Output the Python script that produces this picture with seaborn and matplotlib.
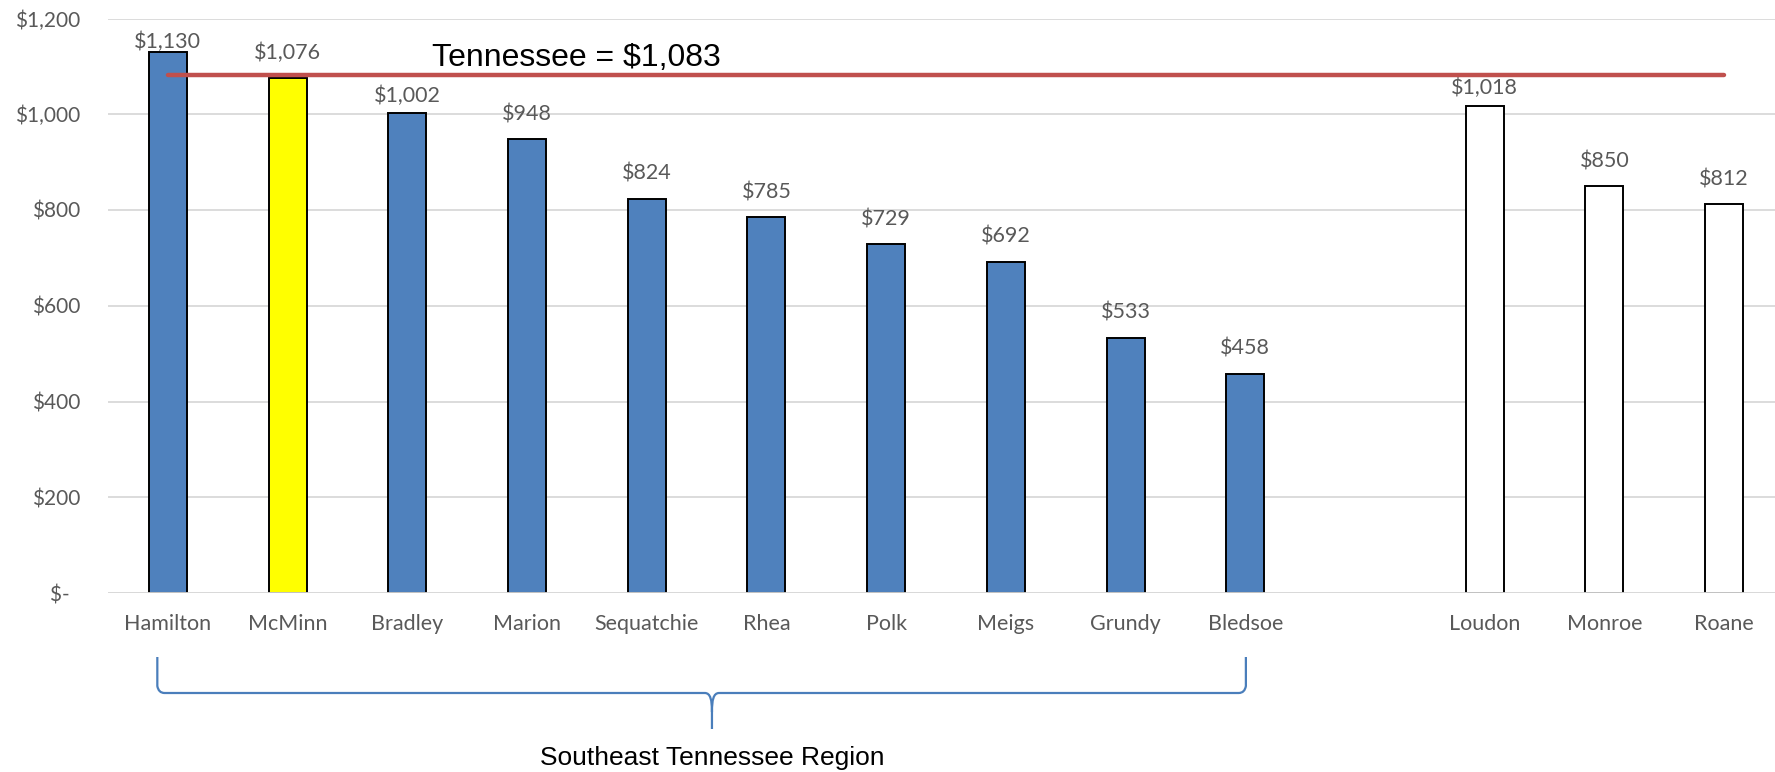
import matplotlib
matplotlib.use("Agg")
import matplotlib.pyplot as plt
import matplotlib.transforms as mtransforms
from matplotlib.path import Path
from matplotlib.patches import PathPatch
import seaborn as sns
import pandas as pd

# ---- data ----
counties = ["Hamilton", "McMinn", "Bradley", "Marion", "Sequatchie", "Rhea",
            "Polk", "Meigs", "Grundy", "Bledsoe", "Loudon", "Monroe", "Roane"]
values = [1130, 1076, 1002, 948, 824, 785, 729, 692, 533, 458, 1018, 850, 812]
region_counties = counties[:10]
neighbor_counties = counties[10:]
highlight = "McMinn"
state_value = 1083
state_label = "Tennessee = $1,083"
region_label = "Southeast Tennessee Region"
yticks = [0, 200, 400, 600, 800, 1000, 1200]
ytick_labels = ["$-  ", "$200", "$400", "$600", "$800", "$1,000", "$1,200"]

order = region_counties + [" "] + neighbor_counties
df = pd.DataFrame({"county": counties, "value": values})

BLUE = "#4F81BD"
palette = {c: BLUE for c in region_counties}
palette[highlight] = "#FFFF00"
for c in neighbor_counties:
    palette[c] = "#FFFFFF"

sns.set_theme(style="white")
plt.rcParams["font.family"] = ["Lato", "DejaVu Sans"]

W, H = 1775, 772
fig = plt.figure(figsize=(W / 100, H / 100), dpi=100)
ax = fig.add_axes([108 / W, 1 - 593 / H, 1676 / W, (593 - 18.5) / H])

sns.barplot(data=df, x="county", y="value", hue="county", order=order,
            hue_order=counties, palette=palette, dodge=False, legend=False,
            width=0.317, edgecolor="black", linewidth=1.4, saturation=1,
            ax=ax, zorder=2)

ax.set_xlim(-0.5, 13.5)
ax.set_ylim(0, 1200)
ax.set_yticks(yticks)
ax.set_yticklabels(ytick_labels)
ax.set_xlabel("")
ax.set_ylabel("")
for s in ax.spines.values():
    s.set_visible(False)
ax.yaxis.grid(True, color="#D9D9D9", linewidth=1.3, zorder=0)
ax.set_axisbelow(True)
ax.axhline(0, color="#D9D9D9", linewidth=2.0, zorder=3)
ax.tick_params(axis="x", length=0, pad=15, labelsize=15.5, labelcolor="#595959")
ax.tick_params(axis="y", length=0, pad=20, labelsize=15, labelcolor="#595959")

# data labels (nudged down where they would touch the state line)
pos = {c: i for i, c in enumerate(order)}
for c, v in zip(counties, values):
    ty = v + 52
    if abs(ty - state_value) < 40:
        ty = v + 37
    ty = min(ty, 1152)
    ax.text(pos[c], ty, f"${v:,}", ha="center", va="center",
            fontsize=15.5, color="#595959", zorder=4)

# state average line
ax.plot([pos[counties[0]], pos[counties[-1]]], [state_value, state_value],
        color="#C0504D", linewidth=3.2, solid_capstyle="round", zorder=4,
        clip_on=False)
ax.text(2.21, 1101, state_label, ha="left", va="baseline", fontsize=23,
        color="black", family=["Liberation Sans", "DejaVu Sans"], zorder=5)

# curly brace under the region
trans = mtransforms.blended_transform_factory(ax.transData, fig.transFigure)
x0 = pos[region_counties[0]] - 0.088
x1 = pos[region_counties[-1]] + 0.005
xm = 4.545
def fy(py):
    return 1 - py / H
r = 0.06
verts = [
    (x0, fy(657)), (x0, fy(686)), (x0 + 0.01, fy(693)), (x0 + r, fy(693)),
    (xm - r, fy(693)), (xm - 0.012, fy(693)), (xm, fy(700)), (xm, fy(712)),
    (xm, fy(729)), (xm, fy(712)),
    (xm, fy(700)), (xm + 0.012, fy(693)), (xm + r, fy(693)),
    (x1 - r, fy(693)), (x1 - 0.01, fy(693)), (x1, fy(686)), (x1, fy(657)),
]
codes = [Path.MOVETO, Path.LINETO, Path.CURVE3, Path.CURVE3,
         Path.LINETO, Path.CURVE4, Path.CURVE4, Path.CURVE4,
         Path.LINETO, Path.MOVETO,
         Path.CURVE4, Path.CURVE4, Path.CURVE4,
         Path.LINETO, Path.CURVE3, Path.CURVE3, Path.LINETO]
brace = PathPatch(Path(verts, codes), facecolor="none", edgecolor="#4A7EBB",
                  linewidth=1.6, transform=trans, clip_on=False)
fig.add_artist(brace)
fig.text(xm, fy(765), region_label, transform=trans, ha="center", va="baseline",
         fontsize=19, color="black", family=["Liberation Sans", "DejaVu Sans"])

fig.savefig("out.png", dpi=100)
